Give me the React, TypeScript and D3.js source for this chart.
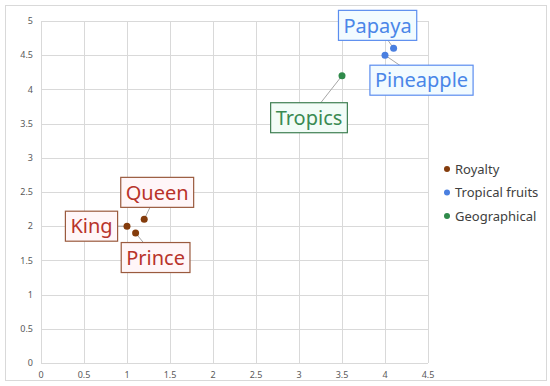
import * as d3 from "d3";
import React from "react";

// chart values
const series = ["Royalty", "Tropical fruits", "Geographical"];
const names = ["King", "Queen", "Prince", "Papaya", "Pineapple", "Tropics"];
const groups = [0, 0, 0, 1, 1, 2];
const xValues = [1, 1.2, 1.1, 4.1, 4.0, 3.5];
const yValues = [2, 2.1, 1.9, 4.6, 4.5, 4.2];
const xTicks = [0, 0.5, 1, 1.5, 2, 2.5, 3, 3.5, 4, 4.5];
const yTicks = [0, 0.5, 1, 1.5, 2, 2.5, 3, 3.5, 4, 4.5, 5];

// styles per series
const dotColors = ["#843c0c", "#4a7fe0", "#2f8a4a"];
const textColors = ["#b8332a", "#4a86e8", "#3a8a52"];
const boxColors = ["#9a5a3e", "#5b8def", "#3f7f52"];
const boxFills = ["#fff6f8", "#f2fbff", "#f2fcf7"];

// label box offsets from the point (px)
const labelOffsets = [
  [-35.5, 0],
  [13, -27],
  [20, 24.5],
  [-16, -23],
  [36.5, 25],
  [-33, 42],
];

const App = () => {
  const ref = React.useRef<SVGSVGElement>(null);

  React.useEffect(() => {
    const width = 550,
      height = 386;
    const margin = { top: 21, right: 122, bottom: 23, left: 41 };
    const svg = d3.select(ref.current);
    svg.selectAll("*").remove();
    svg.attr("width", width).attr("height", height);

    svg
      .append("rect")
      .attr("x", 5.5)
      .attr("y", 5.5)
      .attr("width", 541)
      .attr("height", 375)
      .attr("fill", "white")
      .attr("stroke", "#d9d9d9");

    const x = d3.scaleLinear().domain([0, 4.5]).range([margin.left, width - margin.right]);
    const y = d3.scaleLinear().domain([0, 5]).range([height - margin.bottom, margin.top]);

    const font = "'Noto Sans', 'Open Sans', sans-serif";

    // grid
    const grid = svg.append("g");
    grid
      .selectAll(".vx")
      .data(xTicks)
      .enter()
      .append("line")
      .attr("x1", (d) => Math.round(x(d)) + 0.5)
      .attr("x2", (d) => Math.round(x(d)) + 0.5)
      .attr("y1", y(5))
      .attr("y2", y(0))
      .attr("stroke", "#d9d9d9");
    grid
      .selectAll(".hy")
      .data(yTicks)
      .enter()
      .append("line")
      .attr("x1", x(0))
      .attr("x2", x(4.5))
      .attr("y1", (d) => Math.round(y(d)) + 0.5)
      .attr("y2", (d) => Math.round(y(d)) + 0.5)
      .attr("stroke", "#d9d9d9");

    // tick labels
    svg
      .append("g")
      .selectAll("text")
      .data(xTicks)
      .enter()
      .append("text")
      .attr("x", (d) => x(d))
      .attr("y", y(0) + 15)
      .attr("text-anchor", "middle")
      .attr("font-family", font)
      .attr("font-size", 9)
      .attr("fill", "#595959")
      .text((d) => d);
    svg
      .append("g")
      .selectAll("text")
      .data(yTicks)
      .enter()
      .append("text")
      .attr("x", x(0) - 8)
      .attr("y", (d) => y(d))
      .attr("dy", "0.35em")
      .attr("text-anchor", "end")
      .attr("font-family", font)
      .attr("font-size", 9)
      .attr("fill", "#595959")
      .text((d) => d);

    const pts = names.map((n, i) => ({
      name: n,
      g: groups[i],
      px: x(xValues[i]),
      py: y(yValues[i]),
      cx: x(xValues[i]) + labelOffsets[i][0],
      cy: y(yValues[i]) + labelOffsets[i][1],
    }));

    // leader lines
    svg
      .append("g")
      .selectAll("line")
      .data(pts)
      .enter()
      .append("line")
      .attr("x1", (d) => d.px)
      .attr("y1", (d) => d.py)
      .attr("x2", (d) => d.cx)
      .attr("y2", (d) => d.cy)
      .attr("stroke", "#a6a6a6")
      .attr("stroke-width", 1);

    // points
    svg
      .append("g")
      .selectAll("circle")
      .data(pts)
      .enter()
      .append("circle")
      .attr("cx", (d) => d.px)
      .attr("cy", (d) => d.py)
      .attr("r", 3.5)
      .attr("fill", (d) => dotColors[d.g]);

    // label boxes
    const labels = svg.append("g").selectAll("g").data(pts).enter().append("g");
    const rects = labels
      .append("rect")
      .attr("fill", (d) => boxFills[d.g])
      .attr("stroke", (d) => boxColors[d.g])
      .attr("stroke-width", 1.2);
    const texts = labels
      .append("text")
      .attr("x", (d) => d.cx)
      .attr("y", (d) => d.cy)
      .attr("dy", "0.36em")
      .attr("text-anchor", "middle")
      .attr("font-family", font)
      .attr("font-size", 20)
      .attr("fill", (d) => textColors[d.g])
      .text((d) => d.name);
    texts.each(function (d: any, i) {
      const w = (this as SVGTextElement).getComputedTextLength() + 10;
      d3.select(rects.nodes()[i])
        .attr("x", d.cx - w / 2)
        .attr("y", d.cy - 15)
        .attr("width", w)
        .attr("height", 30);
    });

    // legend
    const legend = svg
      .append("g")
      .selectAll("g")
      .data(series)
      .enter()
      .append("g")
      .attr("transform", (d, i) => "translate(447," + (169 + i * 23.5) + ")");
    legend
      .append("circle")
      .attr("r", 3)
      .attr("fill", (d, i) => dotColors[i]);
    legend
      .append("text")
      .attr("x", 8)
      .attr("dy", "0.35em")
      .attr("font-family", font)
      .attr("font-size", 13)
      .attr("fill", "#404040")
      .text((d) => d);
  }, []);

  return <svg ref={ref} style={{ position: "absolute", left: 0, top: 0 }} />;
};

export default App;
